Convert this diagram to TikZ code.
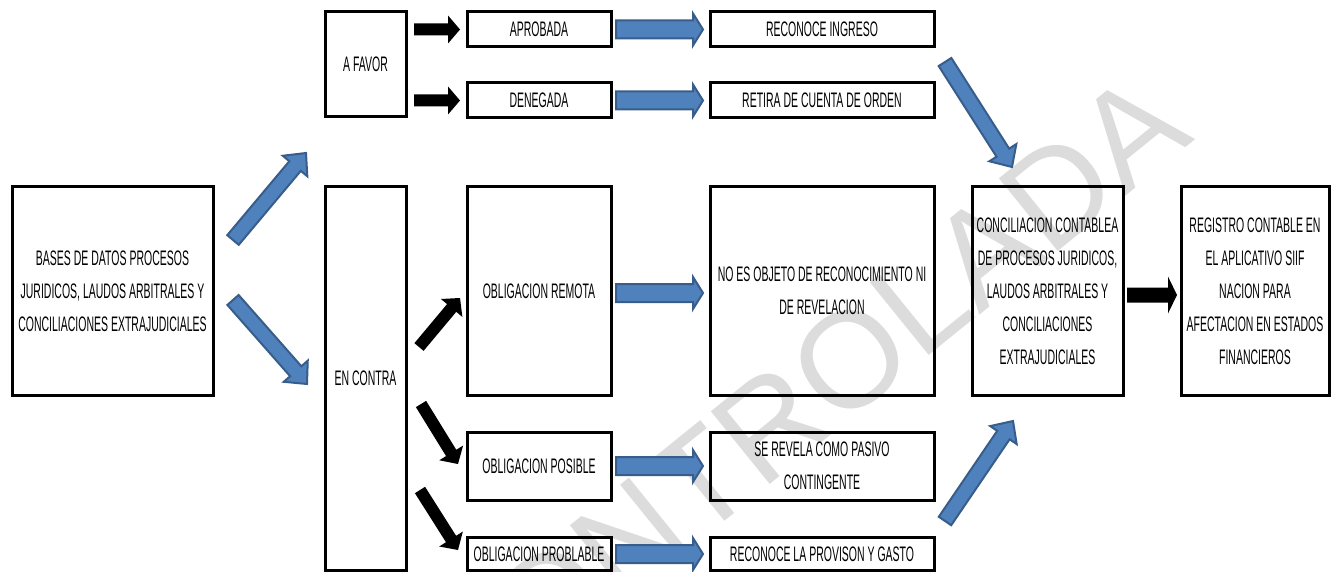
\documentclass[tikz,border=0pt]{standalone}
\usepackage{fontspec}
\setmainfont[FakeStretch=0.5]{Liberation Sans}
\newfontfamily\wmfont{Liberation Sans}
\usetikzlibrary{calc}
\definecolor{bfill}{HTML}{4F81BD}
\definecolor{bline}{HTML}{385D8A}
\definecolor{wmgray}{HTML}{DCDCDC}
\tikzset{
  box/.style={draw=black, line width=3pt, inner sep=0pt, outer sep=0pt, align=center,
    font=\fontsize{21}{33}\selectfont},
  blk/.style n args={3}{to path={
    let \p1=(\tikztostart), \p2=(\tikztotarget),
        \n1={atan2(\y2-\y1,\x2-\x1)}, \n2={veclen(\x2-\x1,\y2-\y1)} in
    ([shift={(\p1)},rotate=\n1]0pt,#1pt)
    -- ([shift={(\p1)},rotate=\n1]\n2-#3pt,#1pt)
    -- ([shift={(\p1)},rotate=\n1]\n2-#3pt,#2pt)
    -- (\p2)
    -- ([shift={(\p1)},rotate=\n1]\n2-#3pt,-#2pt)
    -- ([shift={(\p1)},rotate=\n1]\n2-#3pt,-#1pt)
    -- ([shift={(\p1)},rotate=\n1]0pt,-#1pt) -- cycle}},
  bluearrow/.style n args={3}{blk={#1}{#2}{#3}, fill=bfill, draw=bline, line width=2pt, line join=miter},
  blackarrow/.style n args={3}{blk={#1}{#2}{#3}, fill=black, draw=none},
  wmark/.style={text=wmgray, font=\wmfont\fontsize{136}{136}\selectfont, inner sep=0pt}
}
\begin{document}
\begin{tikzpicture}[x=1pt, y=-1pt]
\useasboundingbox (0,0) rectangle (1338,572);
% watermark
\node[wmark, rotate=39] (wm) at (800,400) {CONTROLADA};
% boxes
\node[box, minimum width=201pt, minimum height=208pt] (bases) at (112.5,291)
  {BASES DE DATOS PROCESOS\\JURIDICOS, LAUDOS ARBITRALES Y\\CONCILIACIONES EXTRAJUDICIALES};
\node[box, minimum width=81pt, minimum height=105pt] (favor) at (365.5,64.5) {A FAVOR};
\node[box, minimum width=81pt, minimum height=383pt] (contra) at (365.5,378.5) {EN CONTRA};
\node[box, minimum width=144pt, minimum height=35pt] (aprob) at (539,29.5) {APROBADA};
\node[box, minimum width=144pt, minimum height=35pt] (deneg) at (539,100.5) {DENEGADA};
\node[box, minimum width=224pt, minimum height=35pt] (ingreso) at (822,29.5) {RECONOCE INGRESO};
\node[box, minimum width=224pt, minimum height=35pt] (retira) at (822,100.5) {RETIRA DE CUENTA DE ORDEN};
\node[box, minimum width=144pt, minimum height=208pt] (remota) at (539,291) {OBLIGACION REMOTA};
\node[box, minimum width=224pt, minimum height=208pt] (noes) at (822,291)
  {NO ES OBJETO DE RECONOCIMIENTO NI\\DE REVELACION};
\node[box, minimum width=144pt, minimum height=68pt] (posible) at (539,466) {OBLIGACION POSIBLE};
\node[box, minimum width=224pt, minimum height=68pt] (revela) at (822,466)
  {SE REVELA COMO PASIVO\\CONTINGENTE};
\node[box, minimum width=144pt, minimum height=33pt] (problable) at (539,554) {OBLIGACION PROBLABLE};
\node[box, minimum width=224pt, minimum height=33pt] (provision) at (822,554) {RECONOCE LA PROVISON Y GASTO};
\node[box, minimum width=151pt, minimum height=208pt] (conc) at (1047.5,291)
  {CONCILIACION CONTABLEA\\DE PROCESOS JURIDICOS,\\LAUDOS ARBITRALES Y\\CONCILIACIONES\\EXTRAJUDICIALES};
\node[box, minimum width=148pt, minimum height=208pt] (reg) at (1255,291)
  {REGISTRO CONTABLE EN\\EL APLICATIVO SIIF\\NACION PARA\\AFECTACION EN ESTADOS\\FINANCIEROS};
% free ends of the diagonal connectors
\coordinate (d1s) at (233,240);  \coordinate (d1e) at (306,153);
\coordinate (d2s) at (233,300);  \coordinate (d2e) at (307,384);
\coordinate (d3s) at (945,62);   \coordinate (d3e) at (1012,167);
\coordinate (d4s) at (945,521);  \coordinate (d4e) at (1013,421);
\coordinate (b1s) at (419,347);  \coordinate (b1e) at (460,298);
\coordinate (b2s) at (421,404);  \coordinate (b2e) at (458,464);
\coordinate (b3s) at (420,490);  \coordinate (b3e) at (458,550);
% blue diagonal arrows
\draw[bluearrow={7.5}{16}{17}] (d1s) to (d1e);
\draw[bluearrow={7.5}{16}{17}] (d2s) to (d2e);
\draw[bluearrow={7.5}{16}{17}] (d3s) to (d3e);
\draw[bluearrow={7.5}{16}{17}] (d4s) to (d4e);
% blue horizontal arrows
\draw[bluearrow={9}{16}{10}] ($(aprob.east)+(5,0)$) to ($(ingreso.west)+(-7,0)$);
\draw[bluearrow={9}{16}{10}] ($(deneg.east)+(5,0)$) to ($(retira.west)+(-7,0)$);
\draw[bluearrow={9}{16}{10}] ($(remota.east)+(5,2)$) to ($(noes.west)+(-7,2)$);
\draw[bluearrow={9}{16}{10}] ($(posible.east)+(5,0)$) to ($(revela.west)+(-7,0)$);
\draw[bluearrow={9}{16}{10}] ($(problable.east)+(5,0)$) to ($(provision.west)+(-7,0)$);
% black arrows
\draw[blackarrow={6}{14}{12}] ($(favor.east |- aprob.west)+(8,0)$) to ($(aprob.west)+(-7,0)$);
\draw[blackarrow={6}{14}{12}] ($(favor.east |- deneg.west)+(8,0)$) to ($(deneg.west)+(-7,0)$);
\draw[blackarrow={6}{14}{13}] (b1s) to (b1e);
\draw[blackarrow={6}{14}{13}] (b2s) to (b2e);
\draw[blackarrow={6}{14}{13}] (b3s) to (b3e);
\draw[blackarrow={7.5}{18.5}{9}] ($(conc.east)+(4,4)$) to ($(reg.west)+(-4,4)$);
\end{tikzpicture}
\end{document}
